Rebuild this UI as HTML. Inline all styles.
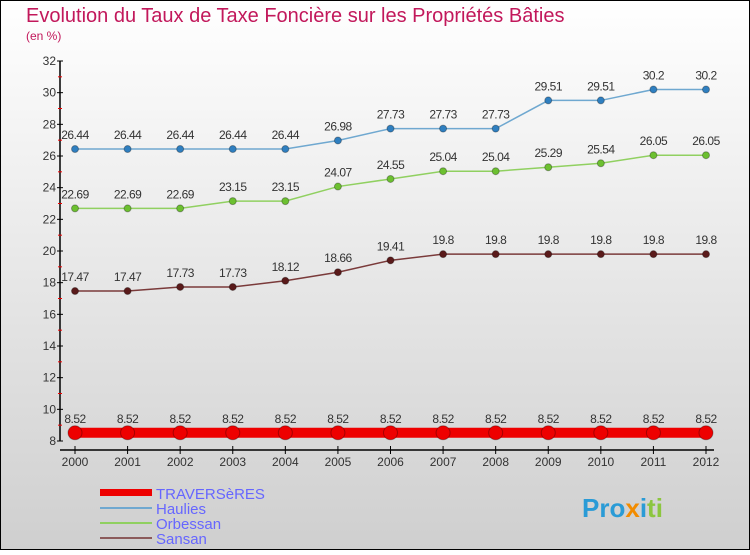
<!DOCTYPE html>
<html><head><meta charset="utf-8"><style>
body{margin:0;width:750px;height:550px;overflow:hidden;font-family:"Liberation Sans",sans-serif}
</style></head><body>
<svg width="750" height="550" xmlns="http://www.w3.org/2000/svg">
<defs><linearGradient id="bg" x1="0" y1="0" x2="0" y2="1"><stop offset="0" stop-color="#ffffff"/><stop offset="1" stop-color="#cfcfcf"/></linearGradient></defs>
<rect x="0.5" y="0.5" width="749" height="549" fill="url(#bg)" stroke="#000"/>
<text x="26" y="22" font-size="20" fill="#c2185b">Evolution du Taux de Taxe Foncière sur les Propriétés Bâties</text>
<text x="26" y="40" font-size="12" fill="#c2185b">(en %)</text>
<g id="axes"></g>
<g id="series"></g>
<g>
<rect x="100" y="489" width="52" height="7" fill="#e00"/>
<text x="156" y="499" font-size="15" fill="#6666ff">TRAVERSèRES</text>
<line x1="100" y1="508" x2="152" y2="508" stroke="#6fa8d0" stroke-width="2"/>
<text x="156" y="514" font-size="15" fill="#6666ff">Haulies</text>
<line x1="100" y1="523" x2="152" y2="523" stroke="#90d060" stroke-width="2"/>
<text x="156" y="529" font-size="15" fill="#6666ff">Orbessan</text>
<line x1="100" y1="538" x2="152" y2="538" stroke="#8b5a5a" stroke-width="2"/>
<text x="156" y="544" font-size="15" fill="#6666ff">Sansan</text>
</g>
<text x="582" y="517" font-size="26" font-weight="bold" fill="#2a9bd6">Pro<tspan fill="#f28c00">x</tspan>i<tspan fill="#8cc63f">ti</tspan></text>
</svg>
<script>
const years=[2000,2001,2002,2003,2004,2005,2006,2007,2008,2009,2010,2011,2012];
const traverseres=[8.52,8.52,8.52,8.52,8.52,8.52,8.52,8.52,8.52,8.52,8.52,8.52,8.52];
const haulies=[26.44,26.44,26.44,26.44,26.44,26.98,27.73,27.73,27.73,29.51,29.51,30.2,30.2];
const orbessan=[22.69,22.69,22.69,23.15,23.15,24.07,24.55,25.04,25.04,25.29,25.54,26.05,26.05];
const sansan=[17.47,17.47,17.73,17.73,18.12,18.66,19.41,19.8,19.8,19.8,19.8,19.8,19.8];
const yTicks=[8,10,12,14,16,18,20,22,24,26,28,30,32];
const NS="http://www.w3.org/2000/svg";
const X=i=>75+i*(706-75)/12;
const Y=v=>441-(v-8)*(380/24);
function mk(p,tag,at){const e=document.createElementNS(NS,tag);for(const k in at)e.setAttribute(k,at[k]);p.appendChild(e);return e;}
const ax=document.getElementById('axes');
let yl=mk(ax,'line',{x1:60,y1:61,x2:60,y2:441,stroke:'#000','stroke-width':1.5});


let xl=mk(ax,'line',{x1:60,y1:450,x2:714,y2:450,stroke:'#000','stroke-width':1.5});


yTicks.forEach(t=>{
 mk(ax,'line',{x1:57,y1:Y(t),x2:63,y2:Y(t),stroke:'#000'});
 if(t<32)mk(ax,'line',{x1:58,y1:Y(t+1),x2:62,y2:Y(t+1),stroke:'#e00'});
 const tx=mk(ax,'text',{x:56,y:Y(t)+4,'font-size':12,fill:'#333','text-anchor':'end'});
 tx.textContent=t;
 
 
});
years.forEach((yr,i)=>{
 mk(ax,'line',{x1:X(i),y1:446,x2:X(i),y2:454,stroke:'#000'});
 const tx=mk(ax,'text',{x:X(i),y:466,'font-size':12,fill:'#333','text-anchor':'middle'});
 tx.textContent=yr;
 
 
});
const sg=document.getElementById('series');
function series(name,data,color,w,r,lab){
 const g=mk(sg,'g',{});
 
 
 const pl=mk(g,'polyline',{points:data.map((v,i)=>X(i)+','+Y(v)).join(' '),fill:'none',stroke:color,'stroke-width':w});
 
 
 data.forEach((v,i)=>{
  const c=mk(g,'circle',{cx:X(i),cy:Y(v),r:r,fill:lab,stroke:'rgba(0,0,0,0.3)'});
  
  
  const t=mk(g,'text',{x:X(i),y:Y(v)-10,'font-size':12,fill:'#333','text-anchor':'middle','letter-spacing':'-0.5'});
  t.textContent=v;
  
  
 });
}
series('traverseres',traverseres,'#e00',10,7,'#e00');
series('haulies',haulies,'#6fa8d0',1.5,3.5,'#2f7fc0');
series('orbessan',orbessan,'#90d060',1.5,3.5,'#6cc030');
series('sansan',sansan,'#7a3a3a',1.5,3.5,'#5a1a1a');
</script>
</body></html>
